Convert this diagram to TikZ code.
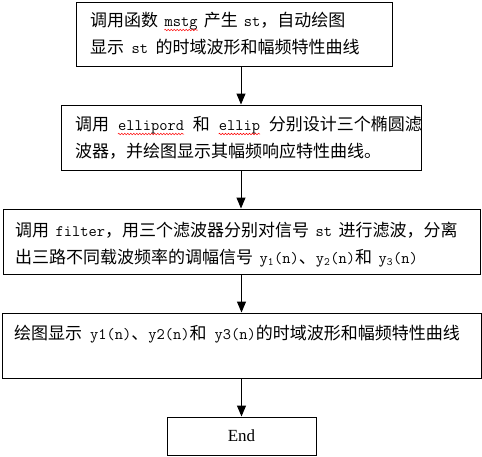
\documentclass[tikz,border=0pt]{standalone}
\usepackage{fontspec}
\setmainfont{Liberation Serif}
\newfontfamily\cjk{Noto Sans CJK SC}
\usetikzlibrary{arrows.meta,decorations.pathmorphing}
\newdimen\gapw \gapw=5.5pt
\newcommand\gp{\kern\gapw\relax}
\newcommand\lt[1]{{\fontsize{16}{27}\selectfont\ttfamily #1}}
\begin{document}
\begin{tikzpicture}[x=1pt,y=-1pt,
  box/.style={draw,line width=1pt,inner sep=0pt,anchor=center},
  txt/.style={inner sep=0pt,anchor=base west,font=\cjk\fontsize{17}{27}\selectfont},
  arr/.style={line width=1pt,-{Triangle[length=11pt,width=9pt]}},
  wavy/.style={red,line width=0.5pt,decorate,decoration={snake,amplitude=0.8pt,segment length=3pt}}]
\useasboundingbox (0,0) rectangle (482,456);
% boxes
\node[box,minimum width=316pt,minimum height=64pt] (b1) at (234,34) {};
\node[box,minimum width=360pt,minimum height=65pt] (b2) at (241,137.5) {};
\node[box,minimum width=477pt,minimum height=65pt] (b3) at (241.5,241.5) {};
\node[box,minimum width=479pt,minimum height=65pt] (b4) at (241.5,345.5) {};
\node[box,minimum width=149pt,minimum height=38pt,font=\fontsize{17}{20}\selectfont] (b5) at (241.5,436) {End};
% box 1 text
\global\gapw=6pt
\node[txt] (t1a) at (90,26.5) {调用函数\gp};
\node[txt] (t1b) at (t1a.base east) {\lt{mstg}};
\node[txt] (t1c) at (t1b.base east) {\gp 产生\gp\lt{st}，自动绘图};
\global\gapw=7.5pt
\node[txt] (t1d) at (90,53.5) {显示\gp\lt{st}\gp 的时域波形和幅频特性曲线};
\draw[wavy] ([yshift=-3.5pt]t1b.base west) -- ([yshift=-3.5pt]t1b.base east);
% box 2 text
\global\gapw=8.5pt
\node[txt] (t2a) at (75,130.5) {调用\gp};
\node[txt] (t2b) at (t2a.base east) {\lt{ellipord}};
\node[txt] (t2c) at (t2b.base east) {\gp 和\gp};
\node[txt] (t2d) at (t2c.base east) {\lt{ellip}};
\node[txt] (t2e) at (t2d.base east) {\gp 分别设计三个椭圆滤};
\node[txt] (t2f) at (75,157.5) {波器，并绘图显示其幅频响应特性曲线。};
\draw[wavy] ([yshift=-3.5pt]t2b.base west) -- ([yshift=-3.5pt]t2b.base east);
\draw[wavy] ([yshift=-3.5pt]t2d.base west) -- ([yshift=-3.5pt]t2d.base east);
% box 3 text
\global\gapw=6.5pt
\node[txt] (t3a) at (15,236) {调用\gp\lt{filter}，用三个滤波器分别对信号\gp\lt{st}\gp 进行滤波，分离};
\node[txt] (t3b) at (15,263) {出三路不同载波频率的调幅信号\gp\lt{y\textsubscript{1}(n)}、\lt{y\textsubscript{2}(n)}和\gp\lt{y\textsubscript{3}(n)}};
% box 4 text
\global\gapw=8pt
\node[txt] (t4) at (14,339) {绘图显示\gp\lt{y1(n)}、\lt{y2(n)}和\gp\lt{y3(n)}的时域波形和幅频特性曲线};
% arrows
\draw[arr] (b1.south -| b2.north) -- (b2.north);
\draw[arr] (b2.south) -- (b3.north -| b2.south);
\draw[arr] (b3.south -| b5.north) -- (b4.north -| b5.north);
\draw[arr] (b4.south -| b5.north) -- (b5.north);
\end{tikzpicture}
\end{document}
